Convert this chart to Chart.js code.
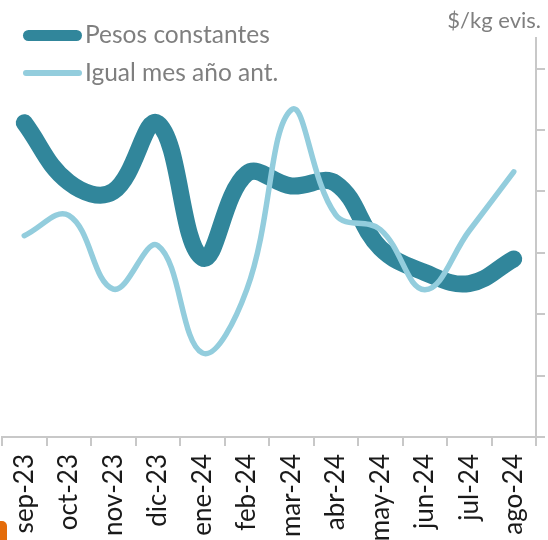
<!DOCTYPE html>
<html>
<head>
<meta charset="utf-8">
<script src="https://cdn.jsdelivr.net/npm/chart.js@4"></script>
<style>
    html, body { margin: 0; padding: 0; background: #fff; }
    #wrap { position: relative; width: 548px; height: 540px; }
    #corner {
        position: absolute; left: 0; top: 521px; width: 7px; height: 19px;
        background: #e46c0a; border-top-right-radius: 5px;
    }
</style>
</head>
<body>
<div id="wrap">
    <canvas id="chart" width="548" height="540"></canvas>
    <div id="corner"></div>
</div>
<script>
const months = ['sep-23', 'oct-23', 'nov-23', 'dic-23', 'ene-24', 'feb-24',
    'mar-24', 'abr-24', 'may-24', 'jun-24', 'jul-24', 'ago-24'];

// $/kg eviscerado
const pesosConstantes = [5.12, 4.15, 4.0, 5.11, 2.92, 4.29, 4.09, 4.13, 3.08, 2.68, 2.50, 2.90];
const igualMesAnoAnt = [3.28, 3.61, 2.41, 3.12, 1.37, 2.40, 5.33, 3.62, 3.38, 2.40, 3.36, 4.32];

const yMax = 6.5;
const yStep = 1;

const FONT = 'Lato, "Open Sans", sans-serif';

// legend on two rows at top left + unit text over the right axis
const overlay = {
    id: 'overlay',
    afterDraw(chart) {
        const ctx = chart.ctx;
        const rows = [
            { y: 35.5, width: 11 },
            { y: 73, width: 6 }
        ];
        ctx.save();
        chart.data.datasets.forEach((ds, i) => {
            const r = rows[i];
            ctx.strokeStyle = ds.borderColor;
            ctx.lineWidth = r.width;
            ctx.lineCap = 'round';
            ctx.beginPath();
            ctx.moveTo(23 + r.width / 2, r.y);
            ctx.lineTo(82 - r.width / 2, r.y);
            ctx.stroke();

            ctx.fillStyle = '#7f7f7f';
            ctx.font = '24.5px ' + FONT;
            ctx.textBaseline = 'middle';
            ctx.textAlign = 'left';
            ctx.fillText(ds.label, 85, r.y);
        });
        ctx.font = '22px ' + FONT;
        ctx.textAlign = 'right';
        ctx.fillText('$/kg evis.', 541, 21);
        ctx.restore();
    }
};

new Chart(document.getElementById('chart'), {
    type: 'line',
    data: {
        labels: months,
        datasets: [{
            label: 'Pesos constantes',
            data: pesosConstantes,
            borderColor: '#31869b',
            borderWidth: 17,
            borderCapStyle: 'round',
            borderJoinStyle: 'round',
            tension: 0.4,
            pointRadius: 0,
            order: 1
        }, {
            label: 'Igual mes año ant.',
            data: igualMesAnoAnt,
            borderColor: '#93cddd',
            borderWidth: 5.5,
            borderCapStyle: 'round',
            borderJoinStyle: 'round',
            tension: 0.4,
            pointRadius: 0,
            order: 0
        }]
    },
    options: {
        responsive: false,
        animation: false,
        layout: { padding: { top: 38, left: 2, right: 3, bottom: 0 } },
        plugins: {
            legend: { display: false },
            tooltip: { enabled: false }
        },
        scales: {
            x: {
                offset: true,
                // long labels run off the bottom edge, keep the axis where it is
                afterFit(scale) {
                    scale.height = 103;
                    scale.paddingLeft = 0;
                    scale.paddingRight = 0;
                },
                grid: {
                    offset: true,
                    drawOnChartArea: false,
                    tickLength: 9,
                    color: '#c8c8c8',
                    lineWidth: 2
                },
                border: { color: '#c8c8c8', width: 2 },
                ticks: {
                    minRotation: 90,
                    maxRotation: 90,
                    padding: 8,
                    color: '#1a1a1a',
                    font: { family: FONT, size: 26 }
                }
            },
            y: {
                position: 'right',
                min: 0,
                max: yMax,
                afterBuildTicks(scale) {
                    scale.ticks = scale.ticks.filter(t => t.value % yStep === 0);
                },
                grid: {
                    drawOnChartArea: false,
                    tickLength: 9,
                    color: '#c8c8c8',
                    lineWidth: 2
                },
                border: { color: '#c8c8c8', width: 2 },
                ticks: { display: false, stepSize: yStep }
            }
        }
    },
    plugins: [overlay]
});
</script>
</body>
</html>
